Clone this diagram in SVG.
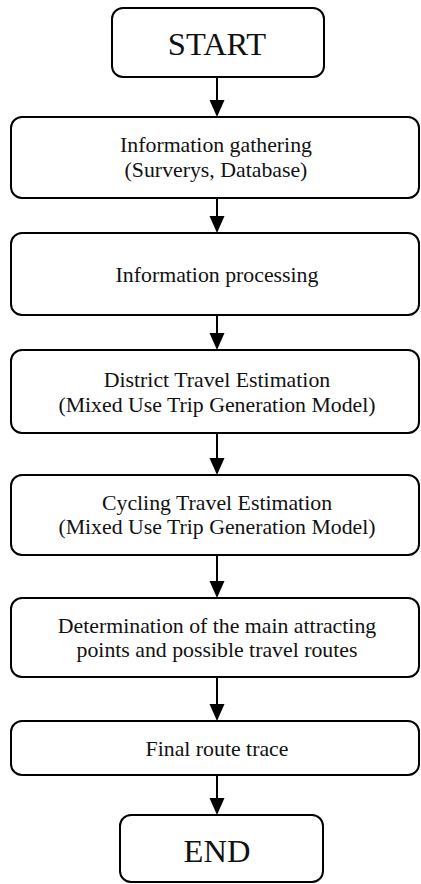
<svg xmlns="http://www.w3.org/2000/svg" width="421" height="884" viewBox="0 0 421 884">
<defs>
<style>
.box{fill:#fff;stroke:#000;stroke-width:2}
.t{font-family:"Liberation Serif","Times New Roman",serif;font-size:21.8px;text-anchor:middle;fill:#111}
.big{font-size:32.5px}
.conn line{stroke:#000;stroke-width:2}
.conn polygon{fill:#000}
</style>
</defs>
<rect width="421" height="884" fill="#fff"/>
<g id="start"><rect class="box" x="112" y="8" width="212" height="69" rx="11"/><text class="t big" x="217" y="55">START</text></g>
<g id="gathering"><rect class="box" x="11" y="117" width="408" height="81" rx="11"/><text class="t" x="216" y="152">Information gathering</text><text class="t" x="216" y="177">(Surverys, Database)</text></g>
<g id="processing"><rect class="box" x="11" y="233" width="408" height="82" rx="11"/><text class="t" x="217" y="282">Information processing</text></g>
<g id="district"><rect class="box" x="11" y="350" width="408" height="83" rx="11"/><text class="t" x="217" y="387">District Travel Estimation</text><text class="t" x="217" y="412">(Mixed Use Trip Generation Model)</text></g>
<g id="cycling"><rect class="box" x="11" y="475" width="408" height="80" rx="11"/><text class="t" x="217" y="510">Cycling Travel Estimation</text><text class="t" x="217" y="534">(Mixed Use Trip Generation Model)</text></g>
<g id="determination"><rect class="box" x="11" y="598" width="408" height="79" rx="11"/><text class="t" x="217" y="633">Determination of the main attracting</text><text class="t" x="217" y="657">points and possible travel routes</text></g>
<g id="final"><rect class="box" x="11" y="721" width="408" height="54" rx="11"/><text class="t" x="217" y="756">Final route trace</text></g>
<g id="end"><rect class="box" x="120" y="815" width="203" height="67" rx="11"/><text class="t big" x="217" y="862">END</text></g>
<g id="connectors" class="conn">
<line x1="217" y1="77" x2="217" y2="102"/><polygon points="209.5,100 224.5,100 217,117"/>
<line x1="217" y1="198" x2="217" y2="218"/><polygon points="209.5,216 224.5,216 217,233"/>
<line x1="217" y1="315" x2="217" y2="335"/><polygon points="209.5,333 224.5,333 217,350"/>
<line x1="217" y1="433" x2="217" y2="460"/><polygon points="209.5,458 224.5,458 217,475"/>
<line x1="217" y1="555" x2="217" y2="583"/><polygon points="209.5,581 224.5,581 217,598"/>
<line x1="217" y1="677" x2="217" y2="706"/><polygon points="209.5,704 224.5,704 217,721"/>
<line x1="217" y1="775" x2="217" y2="800"/><polygon points="209.5,798 224.5,798 217,815"/>
</g>
</svg>
